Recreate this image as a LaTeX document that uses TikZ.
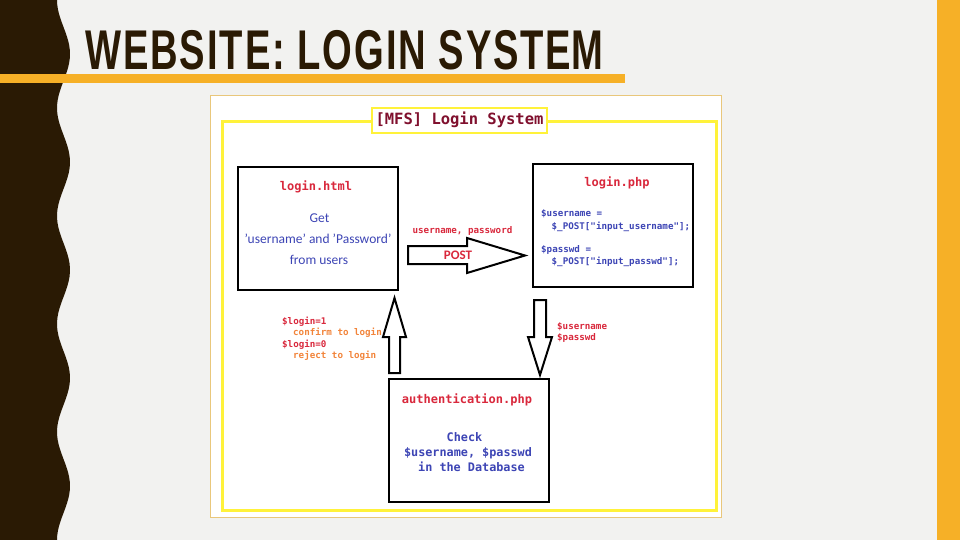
\documentclass[tikz,border=0pt]{standalone}
\usepackage{fontspec}
\setmainfont{Carlito}
\setmonofont{DejaVu Sans Mono}
\newfontfamily\titlefont[LetterSpace=5]{Liberation Sans}
\definecolor{bgc}{HTML}{F2F2F0}
\definecolor{brownc}{HTML}{2A1A04}
\definecolor{orangec}{HTML}{F6B027}
\definecolor{framec}{HTML}{E9C77B}
\definecolor{yel}{HTML}{FFF23A}
\definecolor{redc}{HTML}{D9283C}
\definecolor{bluec}{HTML}{3D45B5}
\definecolor{orc}{HTML}{F2843A}
\definecolor{darkred}{HTML}{80102E}
\tikzset{
  box/.style={draw=black, line width=2pt, fill=white, minimum width=160pt, minimum height=123pt, inner sep=0pt},
  blockarrow/.style={draw=black, line width=2pt, fill=white, line join=miter},
  codered/.style={font=\ttfamily\bfseries\fontsize{12}{14}\selectfont, text=redc, inner sep=0pt, anchor=base},
  codeblue/.style={font=\ttfamily\bfseries\fontsize{9.2}{11}\selectfont, text=bluec, inner sep=0pt, anchor=base west},
  codebig/.style={font=\ttfamily\bfseries\fontsize{11.8}{14}\selectfont, text=bluec, inner sep=0pt, anchor=base},
  sanstxt/.style={font=\fontsize{13.5}{16}\selectfont, text=bluec, inner sep=0pt, anchor=base},
  smallred/.style={font=\ttfamily\bfseries\fontsize{9.2}{11}\selectfont, text=redc, inner sep=0pt, anchor=base west},
  smallor/.style={font=\ttfamily\bfseries\fontsize{9.2}{11}\selectfont, text=orc, inner sep=0pt, anchor=base west}
}
\begin{document}
\begin{tikzpicture}[x=1pt,y=-1pt]
\useasboundingbox (0,0) rectangle (960,540);
% background
\fill[bgc] (0,0) rectangle (960,540);
\fill[brownc] (0,0) -- plot[domain=0:540, samples=120] ({63.5-6.5*cos(\x*10/3)},{\x}) -- (0,540) -- cycle;
\fill[orangec] (0,74) rectangle (625,83);
\fill[orangec] (937,0) rectangle (960,540);
% title
\node[anchor=base west, inner sep=0pt, text=brownc] (title) at (85,70)
  {\resizebox{518pt}{\height}{\titlefont\bfseries\fontsize{56}{60}\selectfont WEBSITE: LOGIN SYSTE\kern0ptM}};
% image panel
\draw[framec, line width=0.8pt, fill=white] (210,95) rectangle (721,517);
\draw[yel, line width=3pt] (222,121.5) rectangle (716,510);
\node[draw=yel, line width=2.5pt, fill=white, minimum width=175pt, minimum height=25pt, inner sep=0pt] (mfsbox) at (459.5,120.5) {};
\node[font=\ttfamily\bfseries\fontsize{15.5}{18}\selectfont, text=darkred, inner sep=0pt, anchor=base] (mfs) at (459.5,125) {[MFS] Login System};
% boxes
\node[box] (html) at (318,228.5) {};
\node[box] (php) at (613,225.5) {};
\node[box] (auth) at (469,440.5) {};
% login.html text
\node[codered] (htmlt) at (316,190) {login.html};
\node[sanstxt] (get) at (319.5,222.5) {Get};
\node[sanstxt] (up) at (318,243.5) {'username' and 'Password'};
\node[sanstxt] (fu) at (319,264) {from users};
% login.php text
\node[codered] (phpt) at (617,186) {login.php};
\node[codeblue] (c1) at (541,216.5) {\$username =};
\node[codeblue] (c2) at (551.5,229) {\$\_POST["input\_username"];};
\node[codeblue] (c3) at (541,252) {\$passwd =};
\node[codeblue] (c4) at (551.5,264) {\$\_POST["input\_passwd"];};
% auth text
\node[codered] (autht) at (467,403) {authentication.php};
\node[codebig] (chk) at (464.5,441.7) {Check};
\node[codebig] (chk2) at (468,456.7) {\$username, \$passwd};
\node[codebig] (chk3) at (471.5,471.7) {in the Database};
% arrows
\draw[blockarrow] (408,246) -- (467,246) -- (467,238) -- (525,255.5) -- (467,273) -- (467,264) -- (408,264) -- cycle;
\draw[blockarrow] (389,373) -- (389,337) -- (383,337) -- (394.5,298) -- (406,337) -- (400,337) -- (400,373) -- cycle;
\draw[blockarrow] (534,300) -- (546,300) -- (546,337) -- (552,337) -- (540,375) -- (528,337) -- (534,337) -- cycle;
% arrow labels
\node[font=\ttfamily\bfseries\fontsize{9.2}{11}\selectfont, text=redc, inner sep=0pt, anchor=base] (upl) at (462.5,233) {username, password};
\node[font=\bfseries\fontsize{13}{15}\selectfont, text=redc, inner sep=0pt, anchor=base] (post) at (458,259.5) {POST};
\node[smallred] (l1) at (282,324) {\$login=1};
\node[smallor] (l2) at (293,335.5) {confirm to login};
\node[smallred] (l3) at (282,347) {\$login=0};
\node[smallor] (l4) at (293,358.5) {reject to login};
\node[smallred] (u1) at (557,329) {\$username};
\node[smallred] (u2) at (557,340.5) {\$passwd};
\end{tikzpicture}
\end{document}
